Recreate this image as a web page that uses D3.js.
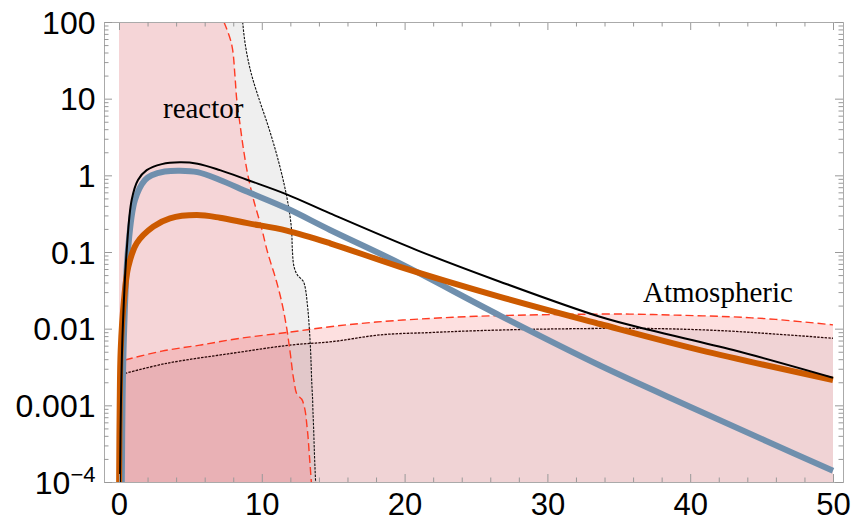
<!DOCTYPE html>
<html>
<head>
<meta charset="utf-8">
<script src="https://cdn.jsdelivr.net/npm/d3@7"></script>
<style>
html,body{margin:0;padding:0;background:#fff;}
svg{display:block;}
</style>
</head>
<body>
<svg id="chart" width="852" height="521"></svg>
<script>
// ---------- DATA ----------
// total spectrum (black solid)
const totalX = [0.07, 0.14, 0.26, 0.54, 0.89, 1.33, 1.94, 3.0, 4.27, 5.5, 7.07, 9.0, 11.74, 14.78, 20.85, 26.68, 33.68, 37.18, 43.02, 50];
const totalY = [1e-4, 0.00117, 0.0096, 0.105, 0.48, 0.87, 1.17, 1.4, 1.48, 1.42, 1.17, 0.87, 0.565, 0.319, 0.106, 0.041, 0.0143, 0.0096, 0.00526, 0.00229];
// blue thick
const blueX = [0.2, 0.25, 0.36, 0.63, 1.12, 1.82, 2.29, 3.2, 4.27, 5.5, 7.07, 9.0, 11.74, 14.78, 19.68, 26.68, 33.68, 39.98, 45.36, 50];
const blueY = [1e-4, 0.0012, 0.0096, 0.106, 0.48, 0.87, 1.0, 1.12, 1.15, 1.1, 0.87, 0.61, 0.371, 0.194, 0.0711, 0.0148, 0.0033, 0.00096, 0.00034, 0.00014];
// orange thick
const orangeX = [0.01, 0.05, 0.12, 0.35, 0.65, 1.24, 2.4, 3.57, 5.44, 7.07, 9.0, 11.74, 14.78, 19.68, 26.68, 33.68, 40.69, 50];
const orangeY = [1e-4, 0.001, 0.0053, 0.0236, 0.064, 0.13, 0.214, 0.275, 0.303, 0.28, 0.238, 0.19, 0.13, 0.064, 0.026, 0.0115, 0.00526, 0.00214];
// reactor background boundaries (x at given levels)
const reactorLevels = [100, 50, 20, 10, 5, 2, 1, 0.5, 0.2, 0.1, 0.07, 0.05, 0.04, 0.02, 0.01, 0.005, 0.002, 0.0014, 0.0012, 0.001, 5e-4, 2e-4, 1e-4];
const reactorRedX   = [7.35, 7.9, 8.12, 8.24, 8.45, 8.75, 9.03, 9.4, 10.0, 10.4, 10.65, 10.9, 11.05, 11.45, 11.75, 11.98, 12.27, 12.45, 12.8, 12.95, 13.18, 13.35, 13.47];
const reactorBlackX = [8.66, 8.85, 9.3, 9.8, 10.35, 11.0, 11.42, 11.77, 12.08, 12.15, 12.22, 12.5, 12.95, 13.2, 13.33, 13.42, 13.5, 13.54, 13.56, 13.57, 13.63, 13.7, 13.77];
// atmospheric background
const atmRedX = [0.42, 3, 5.67, 8.5, 11.74, 14.78, 18, 21.78, 25, 28.78, 32, 35.78, 39, 42.79, 46, 50];
const atmRedY = [0.0039, 0.0051, 0.0061, 0.0075, 0.0089, 0.0106, 0.0122, 0.0136, 0.0145, 0.0151, 0.0154, 0.0155, 0.015, 0.0143, 0.0132, 0.0112];
const atmBlackX = [0.42, 3.34, 8, 11.97, 15, 18.28, 21.78, 25, 28.78, 32, 35.78, 39, 42.79, 46, 50];
const atmBlackY = [0.00261, 0.00353, 0.0048, 0.0061, 0.0068, 0.0083, 0.0089, 0.0094, 0.0098, 0.01, 0.0101, 0.0099, 0.0093, 0.0085, 0.0075];
// ticks
const xMajor = [0, 10, 20, 30, 40, 50];
const xMinor = [2, 4, 6, 8, 12, 14, 16, 18, 22, 24, 26, 28, 32, 34, 36, 38, 42, 44, 46, 48];
const yMajor = [1e-4, 1e-3, 1e-2, 0.1, 1, 10, 100];
const yLabels = ["10^-4", "0.001", "0.01", "0.1", "1", "10", "100"];
const labels = [{text: "reactor", x: 3.08, y: 5.6}, {text: "Atmospheric", x: 36.7, y: 0.0225}];

// ---------- SCALES ----------
const L = 104, R = 843, T = 22, B = 482;
const x = d3.scaleLinear().domain([-1.05, 50.7]).range([L, R]);
const y = d3.scaleLog().domain([1e-4, 100]).range([B, T]);
const yMinor = [];
for (const d of [1e-4, 1e-3, 1e-2, 0.1, 1, 10]) for (let k = 2; k <= 9; k++) yMinor.push(d * k);

const svg = d3.select("#chart");
svg.append("rect").attr("width", 852).attr("height", 521).attr("fill", "#fff");
svg.append("defs").append("clipPath").attr("id", "clip")
  .append("rect").attr("x", L).attr("y", T).attr("width", R - L).attr("height", B - T);
const plot = svg.append("g").attr("clip-path", "url(#clip)");

const zip = (xs, ys) => xs.map((v, i) => ({x: v, v: ys[i]}));
const smooth = d3.curveCatmullRom.alpha(0.5);

// atmospheric fills
const atmArea = d3.area().curve(smooth).x(d => x(d.x)).y0(y(1e-4)).y1(d => y(d.v));
plot.append("path").datum(zip(atmRedX, atmRedY)).attr("d", atmArea).attr("fill", "#fde0e0");
plot.append("path").datum(zip(atmBlackX, atmBlackY)).attr("d", atmArea).attr("fill", "#f0d3d5");

// reactor fills (translucent)
const rdat = reactorLevels.map((v, i) => ({v, r: reactorRedX[i], b: reactorBlackX[i]}));
const redArea = d3.area().curve(d3.curveMonotoneY).y(d => y(d.v)).x0(x(0)).x1(d => x(d.r));
const grayArea = d3.area().curve(d3.curveMonotoneY).y(d => y(d.v)).x0(d => x(d.r)).x1(d => x(d.b));
plot.append("path").datum(rdat).attr("d", grayArea).attr("fill", "rgb(128,128,128)").attr("fill-opacity", 0.13);
plot.append("path").datum(rdat).attr("d", redArea).attr("fill", "rgb(205,45,55)").attr("fill-opacity", 0.2);

// boundary lines
const lineX = d3.line().curve(smooth).x(d => x(d.x)).y(d => y(d.v));
const lineY = (key) => d3.line().curve(d3.curveMonotoneY).x(d => x(d[key])).y(d => y(d.v));
plot.append("path").datum(zip(atmBlackX, atmBlackY)).attr("d", lineX)
  .attr("fill", "none").attr("stroke", "#2a0808").attr("stroke-width", 1.3).attr("stroke-dasharray", "2.5,1.2");
plot.append("path").datum(zip(atmRedX, atmRedY)).attr("d", lineX)
  .attr("fill", "none").attr("stroke", "#ff3a22").attr("stroke-width", 1.4).attr("stroke-dasharray", "8,4");
plot.append("path").datum(rdat).attr("d", lineY("b"))
  .attr("fill", "none").attr("stroke", "#111").attr("stroke-width", 1.1).attr("stroke-dasharray", "2.5,1.2");
plot.append("path").datum(rdat).attr("d", lineY("r"))
  .attr("fill", "none").attr("stroke", "#ff3a22").attr("stroke-width", 1.4).attr("stroke-dasharray", "8,4");

// spectra
plot.append("path").datum(zip(blueX, blueY)).attr("d", lineX)
  .attr("fill", "none").attr("stroke", "#6f8fad").attr("stroke-width", 6);
plot.append("path").datum(zip(orangeX, orangeY)).attr("d", lineX)
  .attr("fill", "none").attr("stroke", "#cc5a00").attr("stroke-width", 6);
plot.append("path").datum(zip(totalX, totalY)).attr("d", lineX)
  .attr("fill", "none").attr("stroke", "#000").attr("stroke-width", 2);

// labels
svg.selectAll("text.lab").data(labels).enter().append("text").attr("class", "lab")
  .attr("x", d => x(d.x)).attr("y", d => y(d.y))
  .attr("font-family", "'Liberation Serif', 'Times New Roman', serif").attr("font-size", 29)
  .attr("fill", "#000").text(d => d.text);

// ---------- AXES ----------
function styleAxis(g) {
  g.select(".domain").attr("stroke", "#aaa").attr("stroke-width", 1);
  g.selectAll(".tick line").attr("stroke", "#999").attr("stroke-width", 1);
  g.selectAll(".tick text").attr("fill", "#000");
}
const font = "'Liberation Sans', Arial, Helvetica, sans-serif";

// bottom
const gb = svg.append("g").attr("transform", `translate(0,${B})`)
  .call(d3.axisBottom(x).tickValues(xMajor).tickSize(-8).tickSizeOuter(0).tickPadding(0).tickFormat(d3.format("d")));
gb.attr("font-family", font).attr("font-size", 31);
gb.selectAll(".tick text").attr("y", 32.5).attr("dy", null);
styleAxis(gb);
const gbm = svg.append("g").attr("transform", `translate(0,${B})`)
  .call(d3.axisBottom(x).tickValues(xMinor).tickSize(-4.5).tickSizeOuter(0).tickFormat(""));
styleAxis(gbm);
// top
const gt = svg.append("g").attr("transform", `translate(0,${T})`)
  .call(d3.axisTop(x).tickValues(xMajor).tickSize(-8).tickSizeOuter(0).tickFormat(""));
styleAxis(gt);
const gtm = svg.append("g").attr("transform", `translate(0,${T})`)
  .call(d3.axisTop(x).tickValues(xMinor).tickSize(-4.5).tickSizeOuter(0).tickFormat(""));
styleAxis(gtm);
// left
const gl = svg.append("g").attr("transform", `translate(${L},0)`)
  .call(d3.axisLeft(y).tickValues(yMajor).tickSize(-8).tickSizeOuter(0).tickPadding(8.5)
    .tickFormat((d, i) => yLabels[i]));
gl.attr("font-family", font).attr("font-size", 32);
gl.selectAll(".tick text").attr("dy", "0.35em");
styleAxis(gl);
gl.selectAll(".tick text").filter(d => d === 1e-4).each(function () {
  const t = d3.select(this);
  t.text(null);
  t.append("tspan").text("10");
  t.append("tspan").attr("font-size", 22).attr("dy", "-0.55em").text("\u22124");
});
const glm = svg.append("g").attr("transform", `translate(${L},0)`)
  .call(d3.axisLeft(y).tickValues(yMinor).tickSize(-4.5).tickSizeOuter(0).tickFormat(""));
styleAxis(glm);
// right
const gr = svg.append("g").attr("transform", `translate(${R},0)`)
  .call(d3.axisRight(y).tickValues(yMajor).tickSize(-8).tickSizeOuter(0).tickFormat(""));
styleAxis(gr);
const grm = svg.append("g").attr("transform", `translate(${R},0)`)
  .call(d3.axisRight(y).tickValues(yMinor).tickSize(-4.5).tickSizeOuter(0).tickFormat(""));
styleAxis(grm);
</script>
</body>
</html>
